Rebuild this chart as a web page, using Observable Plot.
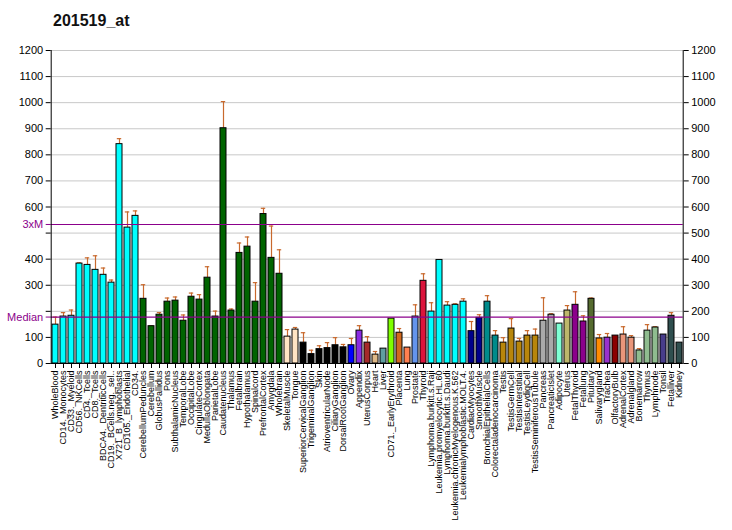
<!DOCTYPE html>
<html><head><meta charset="utf-8">
<script src="https://cdn.jsdelivr.net/npm/d3@7"></script>
<script src="https://cdn.jsdelivr.net/npm/@observablehq/plot@0.6"></script>
<style>
body{margin:0;background:#fff;font-family:"Liberation Sans",Arial,sans-serif;}
#wrap{position:relative;width:732px;height:530px;}
#title{position:absolute;left:53px;top:12px;font-size:16px;font-weight:bold;color:#111;}
#chart{position:absolute;left:0;top:0;}
</style></head><body>
<div id="wrap"><div id="chart"></div><div id="title">201519_at</div></div>
<script>
const names = ["WholeBlood","CD14._Monocytes","CD33._Myeloid","CD56._NKCells","CD4._Tcells","CD8._Tcells","BDCA4._DentriticCells","CD19._BCells.neg._sel..","X721_B_lymphoblasts","CD105._Endothelial","CD34.",
"CerebellumPeduncles","Cerebellum","GlobusPallidus","Pons","SubthalamicNucleus","TemporalLobe","OccipitalLobe","CingulateCortex","MedullaOblongata","ParietalLobe","Caudatenucleus","Thalamus","Fetalbrain","Hypothalamus","Spinalcord","PrefrontalCortex","Amygdala","Wholebrain",
"SkeletalMuscle","Tongue","SuperiorCervicalGanglion","TrigeminalGanglion","Skin","AtrioventricularNode","CiliaryGanglion","DorsalRootGanglion","Ovary","Appendix","UterusCorpus","Heart","Liver","CD71._EarlyErythroid","Placenta","Lung","Prostate","Thyroid",
"Lymphoma.burkitt.s.Raji","Leukemia.promyelocytic.HL.60","Lymphoma.burkitt.s.Daudi","Leukemia.chronicMyelogenous.K.562","Leukemialymphoblastic.MOLT.4.","CardiacMyocytes","SmoothMuscle","BronchialEpithelialCells","Colorectaladenocarcinoma",
"Testis","TestisGermCell","TestisInterstitial","TestisLeydigCell","TestisSeminiferousTubule","Pancreas","PancreaticIslet","Adipocyte","Uterus","FetalThyroid","Fetallung","Pituitary","Salivarygland","Trachea","OlfactoryBulb","AdrenalCortex","Adrenalgland","Bonemarrow","Thymus","Lymphnode","Tonsil","Fetalliver","Kidney"];

const values = [149,180,183,383,378,359,340,310,841,521,566,
248,143,187,237,241,164,256,245,329,180,902,203,424,448,237,573,405,344,
103,130,80,36,55,59,70,62,70,126,80,34,57,172,118,61,180,317,
199,397,222,225,237,124,175,237,107,
80,134,84,107,107,164,187,153,203,225,161,248,96,99,107,111,99,50,126,138,111,183,80];

const errTops = [178,195,205,386,405,413,366,320,862,581,585,
302,144,195,251,255,186,270,264,371,201,1004,209,462,485,310,595,527,436,
130,138,118,51,68,80,99,73,96,145,103,46,57,172,134,61,225,344,
233,397,237,229,248,161,187,260,126,
99,172,96,126,132,252,191,153,222,275,183,251,111,115,107,141,107,57,149,141,111,195,80];

const groups = ["blood","blood","blood","blood","blood","blood","blood","blood","blood","blood","blood",
"brain","brain","brain","brain","brain","brain","brain","brain","brain","brain","brain","brain","brain","brain","brain","brain","brain","brain",
"muscle","muscle","ganglion","ganglion","ganglion","ganglion","ganglion","ganglion","ovary","appendix","uterusCorpus","heart","liver","erythroid","placenta","lung","prostate","thyroid",
"blood","blood","blood","blood","blood","myocyte","myocyte","epithelial","epithelial",
"testis","testis","testis","testis","testis","pancreas","pancreas","adipocyte","uterus","fetal","fetal","pituitary","salivary","trachea","olfactory","adrenal","adrenal","immune","immune","immune","tonsil","slate","slate"];

const groupNames = ["blood","brain","muscle","ganglion","ovary","appendix","uterusCorpus","heart","liver","erythroid","placenta","lung","prostate","thyroid","myocyte","epithelial","testis","pancreas","adipocyte","uterus","fetal","pituitary","salivary","trachea","olfactory","adrenal","immune","tonsil","slate"];
const palette = ["#00ffff","#006400","#ffe4c4","#000000","#0000ff","#8a2be2","#a52a2a","#deb887","#5f9ea0","#7fff00","#d2691e","#ff7f50","#6495ed","#dc143c","#00008b","#008b8b","#b8860b","#a9a9a9","#7fffd4","#bdb76b","#8b008b","#556b2f","#ff8c00","#9932cc","#8b0000","#e9967a","#8fbc8f","#483d8b","#2f4f4f"];

const median = 178;
const threeM = 533;
const yTicks = [0,100,200,300,400,500,600,700,800,900,1000,1100,1200];
const hiddenLeft = [200,500];

const data = names.map((n,i)=>({name:n, value:values[i], err:errTops[i], group:groups[i]}));
const withErr = data.filter(d => d.err > d.value);
const errColor = "#c8692d";
const refColor = "#8b008b";

const chart = Plot.plot({
  width:732, height:530, marginTop:50, marginBottom:167, marginLeft:50.7, marginRight:49.3,
  style:{fontFamily:"Liberation Sans, Arial, sans-serif", background:"white", color:"black"},
  x:{domain:names, paddingInner:0.22, paddingOuter:0.1, axis:null},
  y:{domain:[0,1200], axis:null},
  color:{domain:groupNames, range:palette},
  marks:[
    Plot.gridY(yTicks,{stroke:"#c8c8c8", strokeOpacity:1}),
    Plot.ruleX(withErr,{x:"name", y1:"value", y2:"err", stroke:errColor, strokeWidth:1.2}),
    Plot.tickY(withErr,{x:"name", y:"err", stroke:errColor, strokeWidth:1.2, insetLeft:0.8, insetRight:0.8}),
    Plot.barY(data,{x:"name", y:"value", fill:"group", stroke:"black", strokeWidth:1}),
    Plot.ruleY([0],{stroke:"black"}),
    Plot.ruleY([median, threeM],{stroke:refColor, strokeWidth:1.2}),
    Plot.axisX({fontSize:9, tickRotate:-90, tickSize:5, tickPadding:2, label:null}),
    Plot.axisY({anchor:"left", ticks:yTicks, tickFormat:d => hiddenLeft.includes(d) ? "" : String(d), tickSize:5, tickPadding:3, fontSize:11, label:null}),
    Plot.axisY({anchor:"left", ticks:[median, threeM], tickFormat:d => d === median ? "Median" : "3xM", color:refColor, tickSize:5, tickPadding:3, fontSize:11, label:null}),
    Plot.axisY({anchor:"right", ticks:yTicks, tickFormat:d => String(d), tickSize:5, tickPadding:3, fontSize:11, label:null}),
    Plot.frame({anchor:"left"}),
    Plot.frame({anchor:"right"})
  ]
});
document.getElementById("chart").appendChild(chart);
</script>
</body></html>
